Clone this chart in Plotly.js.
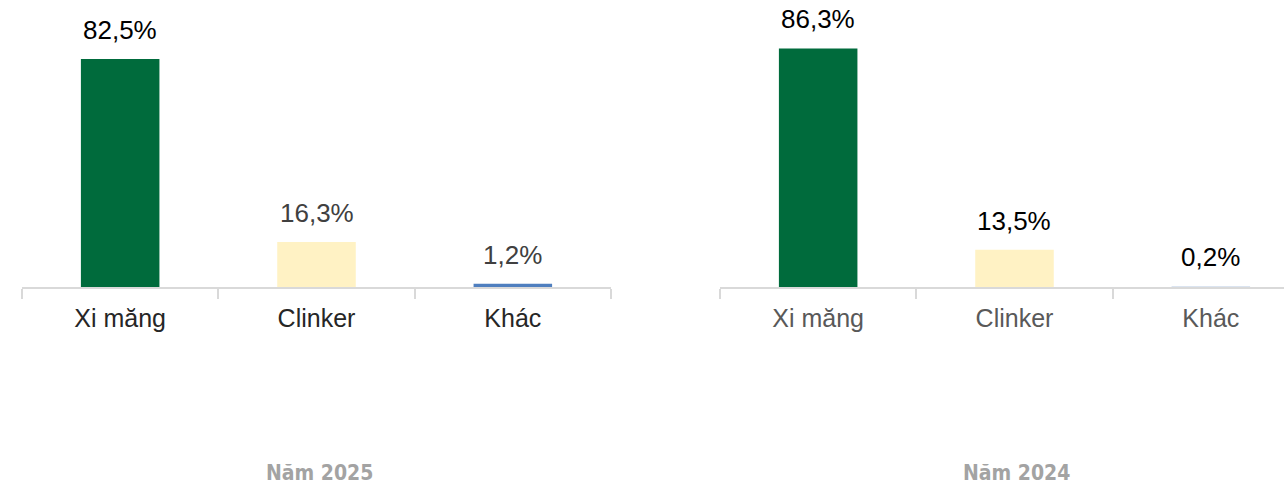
<!DOCTYPE html>
<html>
<head>
<meta charset="utf-8">
<script src="https://cdn.plot.ly/plotly-3.0.1.min.js"></script>
<style>html,body{margin:0;padding:0;background:#fff;}#chart{width:1284px;height:487px;}</style>
</head>
<body>
<div id="chart"></div>
<script>
const categories = ["Xi măng", "Clinker", "Khác"];
const values2025 = [82.5, 16.3, 1.2];
const values2024 = [86.3, 13.5, 0.2];
const labels2025 = ["82,5%", "16,3%", "1,2%"];
const labels2024 = ["86,3%", "13,5%", "0,2%"];
const panelTitles = ["Năm 2025", "Năm 2024"];

const colors2025 = ["#006b3c", "#fff2c4", "#4f7fbf"];
const colors2024 = ["#006b3c", "#fff2c4", "#b7c9e2"];
const labelColors2025 = ["#000000", "#404040", "#404040"];
const labelColors2024 = ["#000000", "#000000", "#000000"];

const FONT = "Liberation Sans, Arial, sans-serif";

const traces = [
  {type: "bar", x: categories, y: values2025, xaxis: "x", yaxis: "y",
   marker: {color: colors2025}, width: 0.4, hoverinfo: "skip"},
  {type: "bar", x: categories, y: values2024, xaxis: "x2", yaxis: "y2",
   marker: {color: colors2024}, width: 0.4, hoverinfo: "skip"}
];

const annotations = [];
categories.forEach((c, i) => {
  annotations.push({xref: "x", yref: "y", x: c, y: values2025[i], text: labels2025[i],
    showarrow: false, yanchor: "bottom", yshift: 12,
    font: {family: FONT, size: 26, color: labelColors2025[i]}});
  annotations.push({xref: "x2", yref: "y2", x: c, y: values2024[i], text: labels2024[i],
    showarrow: false, yanchor: "bottom", yshift: 12,
    font: {family: FONT, size: 26, color: labelColors2024[i]}});
});
annotations.push({xref: "paper", yref: "paper", x: 319/1284, y: 1 - 473/487, text: "<b>" + panelTitles[0] + "</b>",
  showarrow: false, xanchor: "center", yanchor: "middle", borderpad: 0,
  font: {family: "DejaVu Sans Condensed, DejaVu Sans, sans-serif", size: 21, color: "#a3a3a3"}});
annotations.push({xref: "paper", yref: "paper", x: 1016/1284, y: 1 - 473/487, text: "<b>" + panelTitles[1] + "</b>",
  showarrow: false, xanchor: "center", yanchor: "middle", borderpad: 0,
  font: {family: "DejaVu Sans Condensed, DejaVu Sans, sans-serif", size: 21, color: "#a3a3a3"}});

const xbase = {
  type: "category", showline: true, linecolor: "#d9d9d9", linewidth: 2,
  ticks: "outside", tickson: "boundaries", ticklen: 10, tickcolor: "#d9d9d9", tickwidth: 2,
  showgrid: false, zeroline: false, fixedrange: true, ticklabelstandoff: 8
};

const layout = {
  width: 1284, height: 487,
  margin: {l: 0, r: 0, t: 0, b: 0},
  paper_bgcolor: "#ffffff", plot_bgcolor: "rgba(0,0,0,0)",
  showlegend: false,
  xaxis: Object.assign({}, xbase, {domain: [22/1284, 611/1284], range: [-0.5, 2.5],
    anchor: "y", tickfont: {family: FONT, size: 25, color: "#262626"}}),
  xaxis2: Object.assign({}, xbase, {domain: [720/1284, 1], range: [-0.5, -0.5 + 564/196.33],
    anchor: "y2", tickfont: {family: FONT, size: 25, color: "#595959"}}),
  yaxis: {domain: [200/487, 1], range: [0, 103.8], visible: false, fixedrange: true},
  yaxis2: {domain: [200/487, 1], range: [0, 103.8], visible: false, fixedrange: true, anchor: "x2"},
  annotations: annotations
};

Plotly.newPlot("chart", traces, layout, {displayModeBar: false, staticPlot: true});
</script>
</body>
</html>
